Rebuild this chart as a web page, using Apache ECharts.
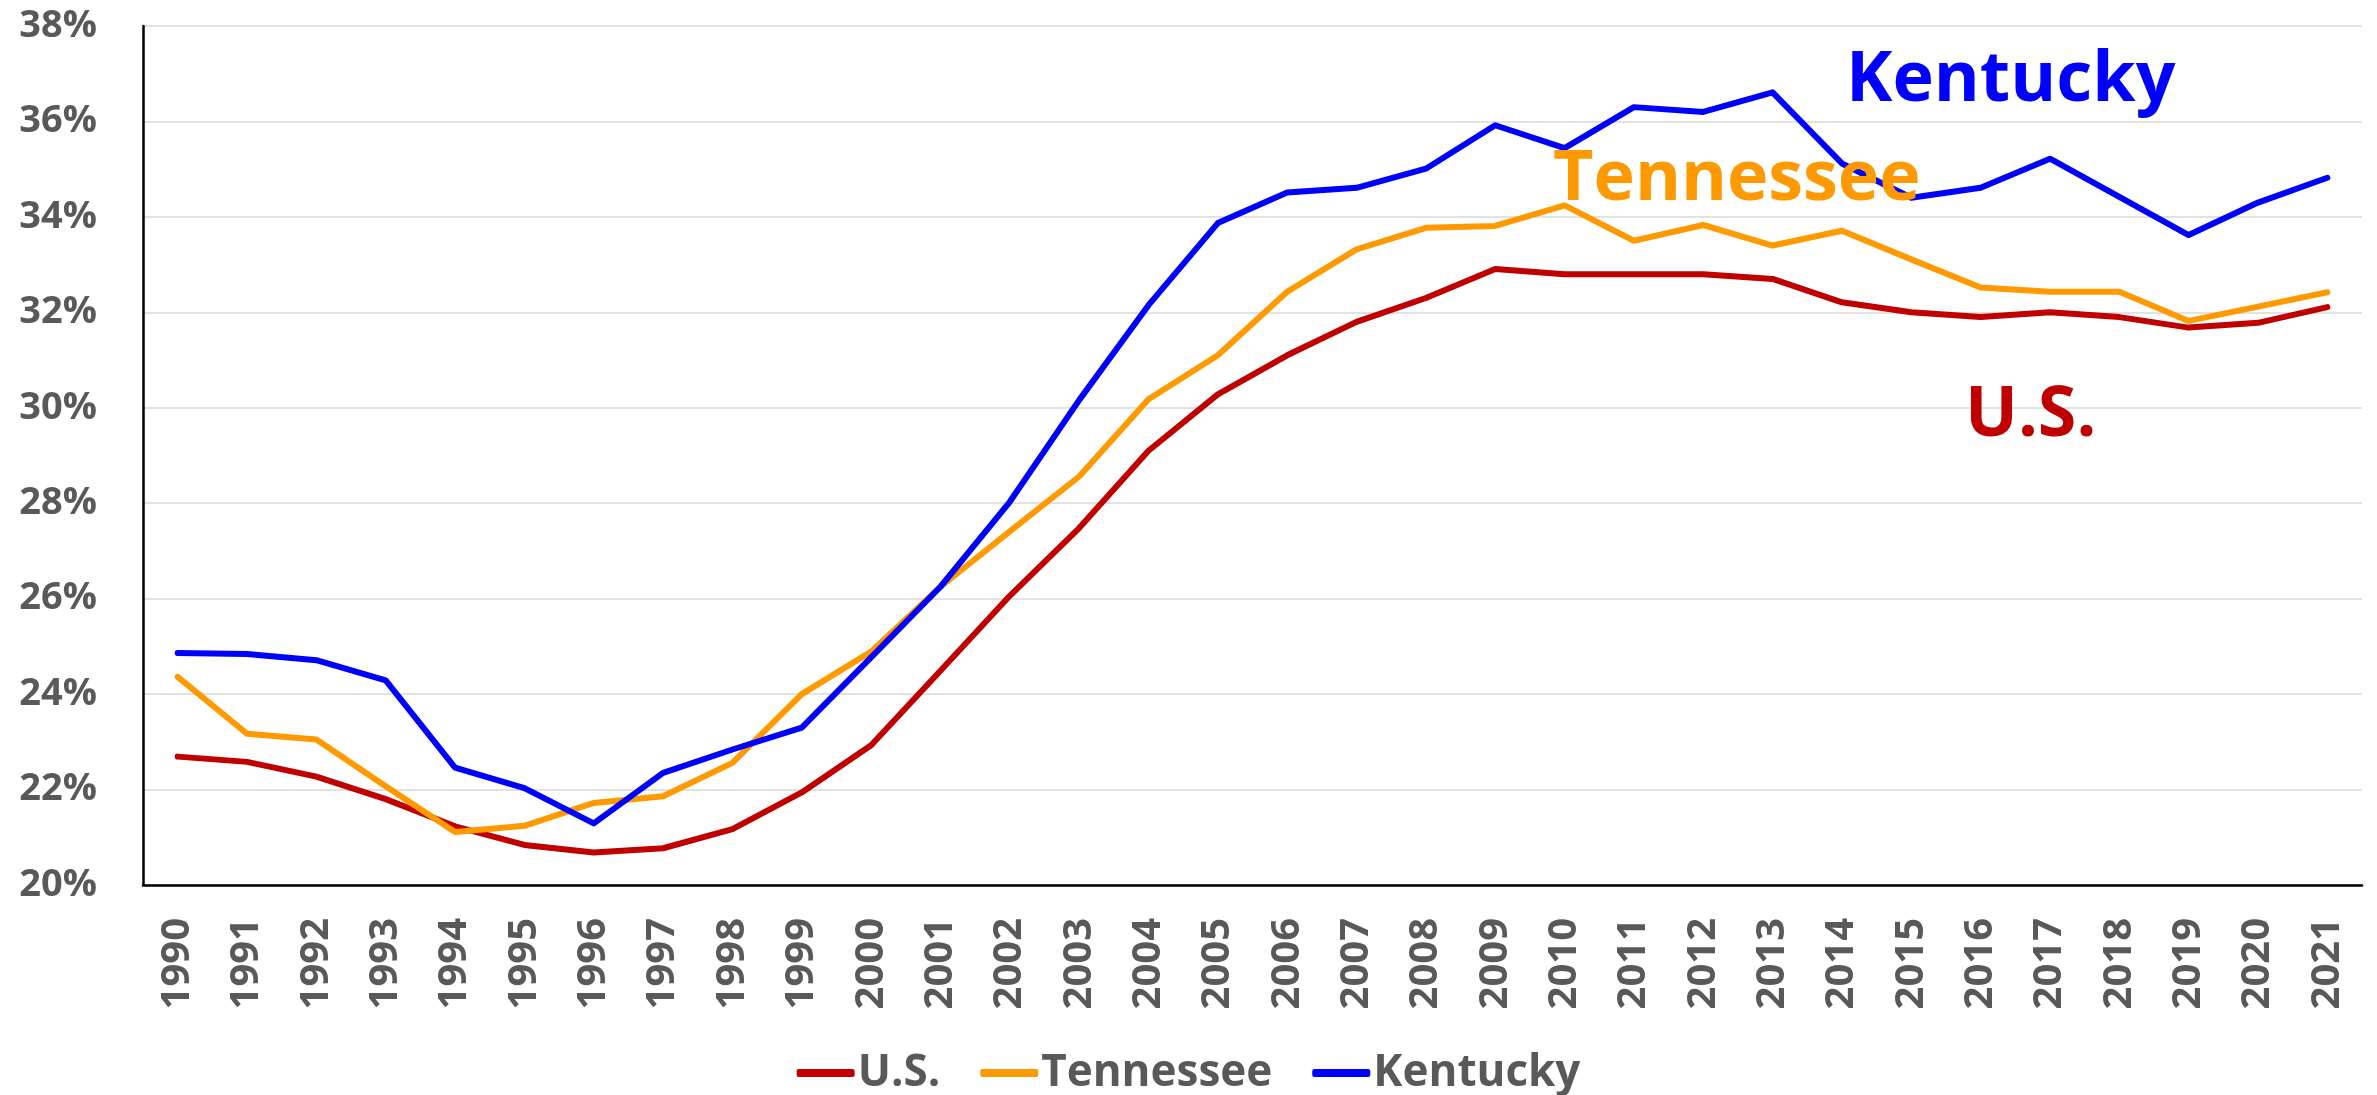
<!DOCTYPE html>
<html>
<head>
  <meta charset="utf-8">
  <title>U.S. / Tennessee / Kentucky</title>
  <script src="https://cdn.jsdelivr.net/npm/echarts@6/dist/echarts.min.js"></script>
  <style>
    html, body { margin: 0; padding: 0; background: #fff; }
    #main { width: 2377px; height: 1095px; }
  </style>
</head>
<body>
<div id="main"></div>
<script>
// 数据
const years = ['1990', '1991', '1992', '1993', '1994', '1995', '1996', '1997', '1998', '1999',
  '2000', '2001', '2002', '2003', '2004', '2005', '2006', '2007', '2008', '2009',
  '2010', '2011', '2012', '2013', '2014', '2015', '2016', '2017', '2018', '2019',
  '2020', '2021']

const usData = [22.69, 22.58, 22.27, 21.80, 21.23, 20.84, 20.68, 20.77, 21.17, 21.94,
  22.93, 24.49, 26.06, 27.48, 29.10, 30.28, 31.10, 31.80, 32.30, 32.91,
  32.80, 32.80, 32.80, 32.70, 32.21, 32.00, 31.90, 32.00, 31.90, 31.68,
  31.78, 32.11]

const tnData = [24.36, 23.17, 23.05, 22.07, 21.11, 21.24, 21.72, 21.86, 22.56, 24.00,
  24.89, 26.25, 27.41, 28.56, 30.18, 31.10, 32.43, 33.32, 33.77, 33.81,
  34.24, 33.50, 33.83, 33.40, 33.71, 33.11, 32.52, 32.43, 32.43, 31.82,
  32.12, 32.42]

const kyData = [24.86, 24.84, 24.71, 24.29, 22.46, 22.03, 21.29, 22.35, 22.84, 23.30,
  24.77, 26.25, 28.03, 30.16, 32.15, 33.87, 34.51, 34.61, 35.01, 35.92,
  35.44, 36.30, 36.20, 36.61, 35.12, 34.40, 34.61, 35.22, 34.42, 33.62,
  34.30, 34.82]

const seriesNames = ['U.S.', 'Tennessee', 'Kentucky']
const colors = ['#C00000', '#FF9900', '#0000FF']

const font = '"Open Sans", "DejaVu Sans", sans-serif'
const labelColor = '#595959'

let myChart = echarts.init(document.getElementById('main'))

function lineSeries(name, data, color) {
  return {
    name: name,
    type: 'line',
    data: data,
    symbol: 'none',
    color: color,
    lineStyle: { width: 6, color: color, cap: 'round', join: 'round' },
    animation: false
  }
}

let option = {
  backgroundColor: '#fff',
  textStyle: { fontFamily: font },
  grid: { left: 143, right: 15, top: 26, bottom: 210 },
  xAxis: {
    type: 'category',
    data: years,
    boundaryGap: true,
    axisLine: { lineStyle: { color: '#000', width: 2.5 } },
    axisTick: { show: false },
    axisLabel: {
      rotate: 90,
      margin: 33,
      color: labelColor,
      fontSize: 40,
      fontWeight: 'bold',
      fontFamily: font,
      interval: 0
    }
  },
  yAxis: {
    type: 'value',
    min: 20,
    max: 38,
    interval: 2,
    axisLine: { show: true, lineStyle: { color: '#000', width: 2.5 } },
    axisTick: { show: false },
    splitLine: { lineStyle: { color: '#d9d9d9', width: 1.5 } },
    axisLabel: {
      formatter: '{value}%',
      margin: 46,
      color: labelColor,
      fontSize: 38,
      fontWeight: 'bold',
      fontFamily: font
    }
  },
  legend: {
    data: seriesNames,
    top: 1046,
    left: 'center',
    icon: 'roundRect',
    itemWidth: 58,
    itemHeight: 8,
    itemGap: 40,
    textStyle: {
      color: labelColor,
      fontSize: 44,
      fontWeight: 'bold',
      fontFamily: font,
      padding: [0, 0, 0, -2]
    }
  },
  series: [
    lineSeries(seriesNames[0], usData, colors[0]),
    lineSeries(seriesNames[1], tnData, colors[1]),
    lineSeries(seriesNames[2], kyData, colors[2])
  ],
  // 图上的文字标注
  graphic: [
    {
      type: 'text', left: 1846, top: 46, z: 100,
      style: { text: 'Kentucky', fill: colors[2], font: 'bold 70px ' + font }
    },
    {
      type: 'text', left: 1553, top: 145, z: 100,
      style: { text: 'Tennessee', fill: colors[1], font: 'bold 70px ' + font }
    },
    {
      type: 'text', left: 1965, top: 381, z: 100,
      style: { text: 'U.S.', fill: colors[0], font: 'bold 70px ' + font }
    }
  ]
}

myChart.setOption(option)
</script>
</body>
</html>
